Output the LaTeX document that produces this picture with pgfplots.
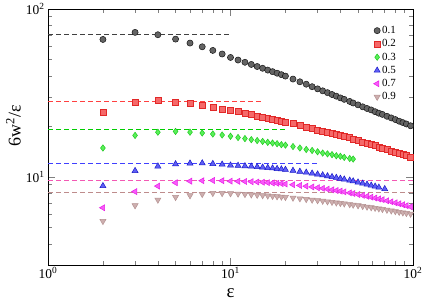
\documentclass[border=0pt]{standalone}
\usepackage{fontspec}
\setmainfont{Liberation Serif}
\usepackage{pgfplots}
\pgfplotsset{compat=1.18}
\definecolor{cA}{RGB}{100,100,100}
\definecolor{cAd}{RGB}{20,20,20}
\definecolor{cB}{RGB}{245,105,105}
\definecolor{cBd}{RGB}{225,40,40}
\definecolor{cC}{RGB}{90,240,90}
\definecolor{cCd}{RGB}{30,200,30}
\definecolor{cD}{RGB}{95,95,245}
\definecolor{cDd}{RGB}{25,25,200}
\definecolor{cE}{RGB}{250,90,250}
\definecolor{cEd}{RGB}{230,30,230}
\definecolor{cF}{RGB}{205,175,175}
\definecolor{cFd}{RGB}{180,145,145}
\definecolor{lineF}{RGB}{190,140,140}
\begin{document}
\begin{tikzpicture}
\begin{axis}[
  at={(0,0)}, anchor=south west,
  scale only axis, width=365bp, height=256bp,
  xmode=log, ymode=log,
  xmin=1, xmax=100, ymin=3, ymax=100,
  xtick={1,10,100},
  xticklabels={10\textsuperscript{0},10\textsuperscript{1},10\textsuperscript{2}},
  ytick={10,100},
  yticklabels={10\textsuperscript{1},10\textsuperscript{2}},
  minor xtick={2,3,4,5,6,7,8,9,20,30,40,50,60,70,80,90},
  minor ytick={3,4,5,6,7,8,9,20,30,40,50,60,70,80,90},
  tick align=inside,
  major tick length=7bp, minor tick length=4bp,
  every tick/.append style={line width=0.6pt},
  axis line style={line width=0.8pt},
  ticklabel style={font=\fontsize{13.5}{13.5}\selectfont},
  xticklabel style={inner sep=2pt},
  xlabel={ε}, ylabel={6w\textsuperscript{2}/ε},
  xlabel style={font=\fontsize{19}{19}\selectfont, at={(axis description cs:0.5,-0.108)}, anchor=center, inner sep=0pt},
  ylabel style={font=\fontsize{18}{18}\selectfont, at={(axis description cs:-0.095,0.545)}, anchor=center},
  clip=false,
  legend style={at={(0.962,0.945)}, anchor=north east, draw=none, fill=none,
    font=\fontsize{11}{11}\selectfont, row sep=0.5pt, inner sep=1pt},
  legend cell align=left,
]
% 0.1
\addplot[only marks, mark=*, mark size=3.1pt, line width=0.5pt, draw=cAd, fill=cA] table {
x y
2 65.9
3 72.6
4 70.3
5 66.2
6 62.7
7 59.6
8 56.7
9 54.0
10 51.5
11 49.7
12 48.2
13 46.8
14 45.5
15 44.4
16 43.3
17 42.4
18 41.5
19 40.7
20 39.9
22 38.3
24 36.9
26 35.7
28 34.5
30 33.5
32 32.6
34 31.8
36 31.0
38 30.3
40 29.6
42 29.0
45 28.2
47 27.6
50 26.9
53 26.2
56 25.6
59 25.1
62 24.5
65 24.0
68 23.6
72 23.0
76 22.5
80 22.0
84 21.5
88 21.1
92 20.7
97 20.2
};
\addlegendentry{0.1}
% 0.2
\addplot[only marks, mark=square*, mark size=3.0pt, line width=0.5pt, draw=cBd, fill=cB] table {
x y
2 24.3
3 28.0
4 28.5
5 28.0
6 27.5
7 26.9
8 26.1
9 25.5
10 25.0
11 24.5
12 24.0
13 23.5
14 23.1
15 22.8
16 22.4
17 22.1
18 21.8
19 21.6
20 21.3
22 20.8
24 20.3
26 19.9
28 19.5
30 19.1
32 18.8
34 18.5
36 18.2
38 18.0
40 17.7
42 17.5
45 17.2
47 16.9
50 16.6
53 16.2
56 15.9
59 15.6
62 15.4
65 15.1
68 14.9
72 14.6
76 14.3
80 14.1
84 13.8
88 13.6
92 13.4
97 13.15
};
\addlegendentry{0.2}
% 0.3
\addplot[only marks, mark=diamond*, mark size=3.2pt, line width=0.5pt, draw=cCd, fill=cC] table {
x y
2 14.9
3 17.7
4 18.5
5 18.7
6 18.5
7 18.3
8 18.05
9 17.8
10 17.5
11 17.2
12 16.95
13 16.7
14 16.5
15 16.3
16 16.1
17 15.95
18 15.8
19 15.6
20 15.5
22 15.2
24 14.9
26 14.6
28 14.4
30 14.15
32 13.9
34 13.75
36 13.6
38 13.4
40 13.3
42 13.1
45 12.9
47 12.8
};
\addlegendentry{0.3}
% 0.5
\addplot[only marks, mark=triangle*, mark size=3.5pt, line width=0.5pt, draw=cDd, fill=cD] table {
x y
2 8.86
3 10.9
4 11.6
5 11.95
6 12.07
7 12.1
8 12.0
9 11.9
10 11.75
11 11.70
12 11.63
13 11.57
14 11.50
15 11.43
16 11.36
17 11.29
18 11.21
19 11.14
20 11.07
22 10.93
24 10.79
26 10.65
28 10.52
30 10.39
32 10.27
34 10.14
36 10.03
38 9.92
40 9.80
42 9.70
45 9.55
47 9.45
50 9.31
53 9.17
56 9.04
59 8.92
62 8.80
65 8.68
70 8.50
};
\addlegendentry{0.5}
% 0.7
\addplot[only marks, mark=triangle*, mark size=3.5pt, line width=0.5pt, draw=cEd, fill=cE, mark options={rotate=90}] table {
x y
2 6.57
3 8.2
4 8.84
5 9.26
6 9.46
7 9.52
8 9.55
9 9.52
10 9.46
11 9.44
12 9.42
13 9.39
14 9.35
15 9.32
16 9.27
17 9.23
18 9.19
19 9.15
20 9.10
22 9.01
24 8.92
26 8.83
28 8.74
30 8.65
32 8.57
34 8.48
36 8.40
38 8.32
40 8.25
42 8.17
45 8.06
47 7.99
50 7.88
53 7.79
56 7.69
59 7.60
62 7.51
65 7.42
68 7.34
72 7.23
76 7.13
80 7.03
84 6.94
88 6.85
92 6.76
97 6.66
};
\addlegendentry{0.7}
% 0.9
\addplot[only marks, mark=triangle*, mark size=3.5pt, line width=0.5pt, draw=cFd, fill=cF, mark options={rotate=180}] table {
x y
2 5.47
3 6.78
4 7.33
5 7.60
6 7.78
7 7.92
8 8.03
9 8.02
10 8.00
11 7.96
12 7.91
13 7.87
14 7.83
15 7.79
16 7.75
17 7.71
18 7.67
19 7.64
20 7.60
22 7.53
24 7.46
26 7.39
28 7.33
30 7.27
32 7.22
34 7.16
36 7.11
38 7.05
40 7.00
42 6.96
45 6.89
47 6.84
50 6.78
53 6.72
56 6.66
59 6.60
62 6.55
65 6.50
68 6.45
72 6.38
76 6.32
80 6.26
84 6.20
88 6.15
92 6.10
97 6.04
};
\addlegendentry{0.9}
% dashed reference lines
\addplot[color=black!75, dash pattern=on 5bp off 3bp, line width=1pt, forget plot, mark=none] coordinates {(1,71.0) (10,71.0)};
\addplot[color=red!75, dash pattern=on 5bp off 3bp, line width=1pt, forget plot, mark=none] coordinates {(1,28.3) (15,28.3)};
\addplot[color=green!80!black, dash pattern=on 5bp off 3bp, line width=1pt, forget plot, mark=none] coordinates {(1,19.2) (20,19.2)};
\addplot[color=blue!75, dash pattern=on 5bp off 3bp, line width=1pt, forget plot, mark=none] coordinates {(1,12.1) (30,12.1)};
\addplot[color=magenta!65, dash pattern=on 5bp off 3bp, line width=1pt, forget plot, mark=none] coordinates {(1,9.6) (100,9.6)};
\addplot[color=lineF, dash pattern=on 5bp off 3bp, line width=1pt, forget plot, mark=none] coordinates {(1,8.07) (100,8.07)};
\end{axis}
\pgfresetboundingbox
\useasboundingbox (-48bp,-35bp) rectangle (376bp,265bp);
\end{tikzpicture}
\end{document}
